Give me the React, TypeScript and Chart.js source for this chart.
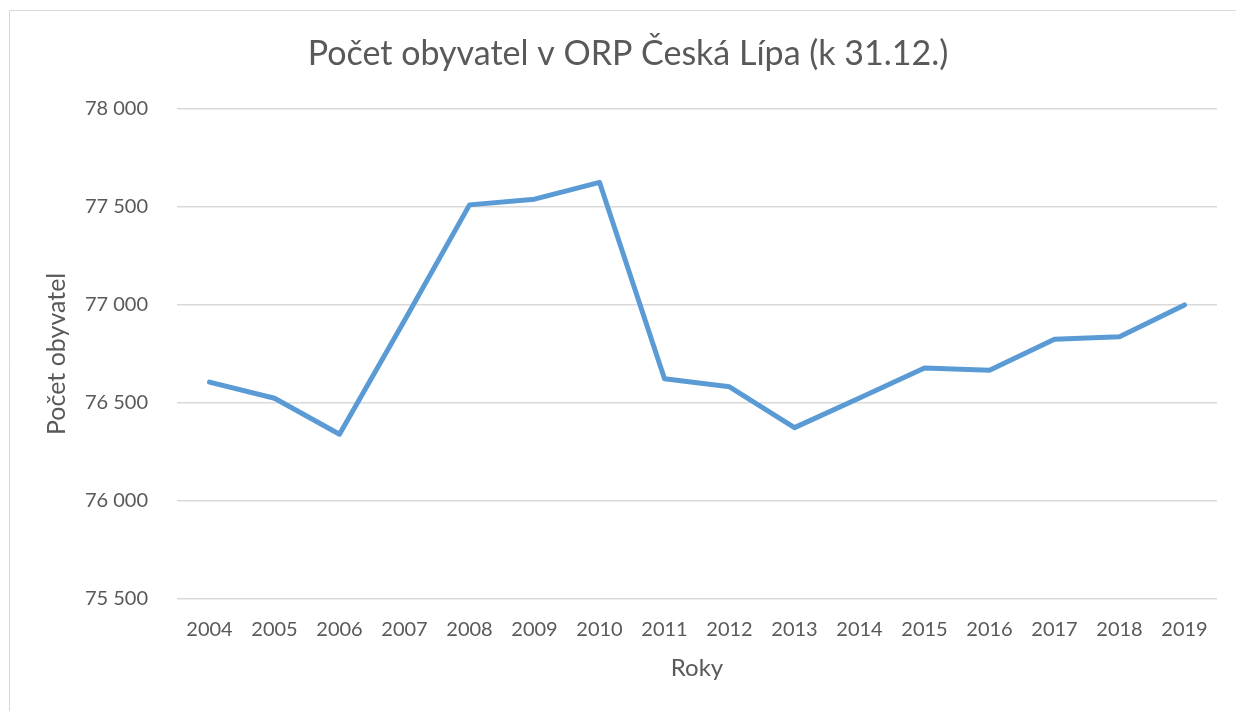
import React, { useEffect, useRef } from "react";
import { Chart, registerables } from "chart.js";

Chart.register(...registerables);

const years = ["2004", "2005", "2006", "2007", "2008", "2009", "2010", "2011", "2012", "2013", "2014", "2015", "2016", "2017", "2018", "2019"];
const population = [76606, 76524, 76340, 76920, 77510, 77539, 77625, 76623, 76582, 76374, 76525, 76678, 76666, 76825, 76838, 77000];
const yMin = 75500;
const yMax = 78000;
const yStep = 500;
const titleText = "Počet obyvatel v ORP Česká Lípa (k 31.12.)";
const xTitle = "Roky";
const yTitle = "Počet obyvatel";

const FONT = "Lato, 'Open Sans', sans-serif";
const TEXT = "#595959";
const GRID = "#d9d9d9";

const framePlugin = {
  id: "frame",
  afterLayout(chart: any) {
    if (chart.titleBlock) {
      chart.titleBlock.left += 30;
    }
  },
  beforeDraw(chart: any) {
    const ctx = chart.ctx;
    ctx.save();
    ctx.fillStyle = "#ffffff";
    ctx.fillRect(0, 0, chart.width, chart.height);
    ctx.strokeStyle = GRID;
    ctx.lineWidth = 1;
    ctx.beginPath();
    ctx.moveTo(9.5, chart.height);
    ctx.lineTo(9.5, 10.5);
    ctx.lineTo(chart.width, 10.5);
    ctx.stroke();
    ctx.restore();
  },
};

export default function App() {
  const ref = useRef<HTMLCanvasElement | null>(null);
  useEffect(() => {
    if (!ref.current) return;
    const chart = new Chart(ref.current, {
      type: "line",
      data: {
        labels: years,
        datasets: [
          {
            data: population,
            borderColor: "#5B9BD5",
            backgroundColor: "#5B9BD5",
            borderWidth: 5,
            pointRadius: 0,
            tension: 0,
            borderJoinStyle: "round",
            borderCapStyle: "round",
          },
        ],
      },
      options: {
        animation: false,
        responsive: false,
        layout: { padding: { left: 9, right: 19, top: 10, bottom: 0 } },
        plugins: {
          legend: { display: false },
          tooltip: { enabled: false },
          title: {
            display: true,
            text: titleText,
            color: TEXT,
            font: { family: FONT, size: 34, weight: "normal" },
            padding: { top: 24, bottom: 34 },
          },
        },
        scales: {
          x: {
            offset: true,
            grid: { display: false, drawTicks: false },
            border: { display: false },
            ticks: {
              color: TEXT,
              font: { family: FONT, size: 20 },
              padding: 19,
              maxRotation: 0,
              autoSkip: false,
            },
            title: {
              display: true,
              text: xTitle,
              color: TEXT,
              font: { family: FONT, size: 24 },
              padding: { top: 0, bottom: 28 },
            },
            afterFit(scale: any) {
              scale.height = 112;
            },
          },
          y: {
            min: yMin,
            max: yMax,
            grid: { color: GRID, lineWidth: 1.5, drawTicks: false },
            border: { display: false },
            ticks: {
              stepSize: yStep,
              color: TEXT,
              font: { family: FONT, size: 20 },
              padding: 29,
              callback: (v: any) => Number(v).toLocaleString("en-US").replace(/,/g, " "),
            },
            title: {
              display: true,
              text: yTitle,
              color: TEXT,
              font: { family: FONT, size: 25 },
              padding: { top: 33, bottom: 0 },
            },
            afterFit(scale: any) {
              scale.width = 168;
            },
          },
        },
      },
      plugins: [framePlugin],
    });
    return () => chart.destroy();
  }, []);
  return (
    <div style={{ position: "absolute", left: 0, top: 0, width: 1236, height: 711 }}>
      <canvas ref={ref} width={1236} height={711} style={{ display: "block" }} />
    </div>
  );
}
